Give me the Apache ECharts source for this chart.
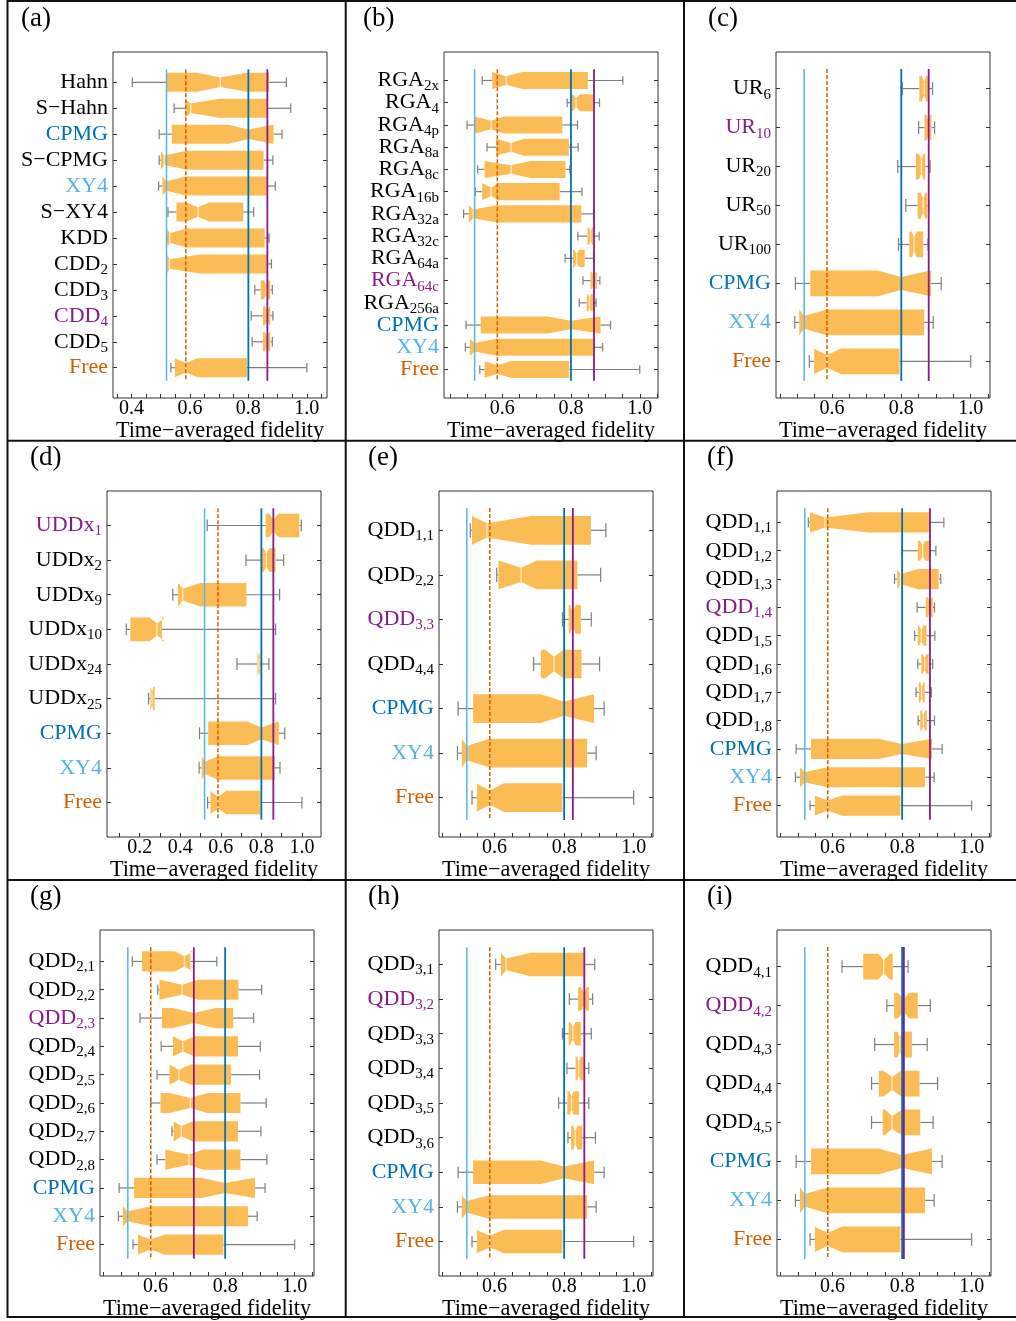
<!DOCTYPE html>
<html><head><meta charset="utf-8">
<script src="https://cdn.jsdelivr.net/npm/echarts@6/dist/echarts.min.js"></script>
<style>html,body{margin:0;padding:0;background:#fff}#c{width:1016px;height:1321px}</style>
</head><body><div id="c"></div>
<script>
// ---------- DATA ----------
// box stats: [whiskerLow, q1, notchLow, median, notchHigh, q3, whiskerHigh]
const CPMG = [0.495,0.538,0.732,0.800,0.885,0.886,0.915];
const XY4  = [0.493,0.506,0.506,0.520,0.586,0.866,0.892];
const FREE = [0.535,0.549,0.547,0.586,0.627,0.795,1.000];
const QDD11 = [0.530,0.535,0.535,0.578,0.705,0.877,0.920];
const QDD22 = [0.606,0.611,0.611,0.676,0.722,0.838,0.905];
const QDD33 = [0.795,0.813,0.817,0.825,0.833,0.848,0.878];
const QDD44 = [0.712,0.733,0.746,0.771,0.798,0.850,0.902];

const catsA = ['Hahn','S\u2212Hahn','CPMG','S\u2212CPMG','XY4','S\u2212XY4','KDD','CDD_2','CDD_3','CDD_4','CDD_5','Free'];
const statsA = [
  [0.403,0.522,0.625,0.704,0.795,0.871,0.930],
  [0.546,0.585,0.580,0.603,0.700,0.865,0.945],
  CPMG,
  [0.495,0.501,0.501,0.512,0.590,0.852,0.884],
  XY4,
  [0.525,0.554,0.588,0.628,0.666,0.782,0.818],
  [0.522,0.523,0.523,0.531,0.590,0.856,0.871],
  [0.521,0.522,0.522,0.530,0.634,0.865,0.879],
  [0.822,0.842,0.852,0.862,0.870,0.875,0.882],
  [0.810,0.850,0.857,0.865,0.872,0.875,0.884],
  [0.813,0.850,0.856,0.864,0.870,0.875,0.882],
  FREE
];
const catsB = ['RGA_2x','RGA_4','RGA_4p','RGA_8a','RGA_8c','RGA_16b','RGA_32a','RGA_32c','RGA_64a','RGA_64c','RGA_256a','CPMG','XY4','Free'];
const statsB = [
  [0.542,0.571,0.571,0.612,0.658,0.849,0.951],
  [0.789,0.802,0.805,0.815,0.826,0.864,0.883],
  [0.498,0.520,0.520,0.568,0.605,0.775,0.819],
  [0.556,0.583,0.583,0.626,0.663,0.794,0.821],
  [0.529,0.549,0.549,0.626,0.683,0.784,0.797],
  [0.522,0.542,0.542,0.568,0.590,0.767,0.832],
  [0.488,0.503,0.503,0.516,0.585,0.830,0.867],
  [0.820,0.848,0.853,0.857,0.862,0.864,0.882],
  [0.783,0.806,0.810,0.817,0.824,0.840,0.867],
  [0.835,0.857,0.861,0.867,0.872,0.875,0.884],
  [0.824,0.846,0.850,0.854,0.858,0.864,0.873],
  CPMG, XY4, FREE
];
const catsC = ['UR_6','UR_10','UR_20','UR_50','UR_100','CPMG','XY4','Free'];
const statsC = [
  [0.803,0.852,0.859,0.866,0.872,0.877,0.890],
  [0.850,0.867,0.873,0.879,0.884,0.887,0.896],
  [0.790,0.842,0.851,0.858,0.864,0.869,0.883],
  [0.813,0.847,0.856,0.863,0.869,0.875,0.879],
  [0.792,0.823,0.830,0.837,0.844,0.863,0.877],
  CPMG, XY4, FREE
];
const catsD = ['UDDx_1','UDDx_2','UDDx_9','UDDx_10','UDDx_24','UDDx_25','CPMG','XY4','Free'];
const statsD = [
  [0.533,0.821,0.838,0.859,0.885,0.987,0.997],
  [0.724,0.798,0.812,0.825,0.838,0.870,0.910],
  [0.363,0.389,0.389,0.412,0.499,0.726,0.890],
  [0.134,0.154,0.249,0.285,0.326,0.310,0.870],
  [0.680,0.781,0.783,0.788,0.792,0.795,0.837],
  [0.244,0.253,0.254,0.261,0.267,0.274,0.870],
  CPMG, XY4, FREE
];
const catsE = ['QDD_1,1','QDD_2,2','QDD_3,3','QDD_4,4','CPMG','XY4','Free'];
const statsE = [QDD11, QDD22, QDD33, QDD44, CPMG, XY4, FREE];
const catsF = ['QDD_1,1','QDD_1,2','QDD_1,3','QDD_1,4','QDD_1,5','QDD_1,6','QDD_1,7','QDD_1,8','CPMG','XY4','Free'];
const statsF = [
  QDD11,
  [0.800,0.845,0.851,0.859,0.866,0.878,0.897],
  [0.778,0.786,0.786,0.795,0.847,0.905,0.911],
  [0.843,0.868,0.873,0.880,0.885,0.888,0.893],
  [0.836,0.845,0.849,0.855,0.861,0.870,0.894],
  [0.845,0.855,0.858,0.865,0.871,0.876,0.888],
  [0.840,0.848,0.852,0.856,0.861,0.865,0.884],
  [0.846,0.852,0.856,0.861,0.866,0.871,0.893],
  CPMG, XY4, FREE
];
const catsG = ['QDD_2,1','QDD_2,2','QDD_2,3','QDD_2,4','QDD_2,5','QDD_2,6','QDD_2,7','QDD_2,8','CPMG','XY4','Free'];
const statsG = [
  [0.533,0.561,0.655,0.683,0.707,0.700,0.776],
  QDD22,
  [0.555,0.618,0.648,0.710,0.774,0.823,0.882],
  [0.616,0.650,0.650,0.678,0.712,0.837,0.901],
  [0.604,0.640,0.640,0.667,0.702,0.817,0.899],
  [0.586,0.614,0.640,0.700,0.750,0.844,0.918],
  [0.647,0.652,0.652,0.674,0.707,0.837,0.903],
  [0.604,0.628,0.628,0.696,0.736,0.844,0.920],
  CPMG, XY4, FREE
];
const catsH = ['QDD_3,1','QDD_3,2','QDD_3,3','QDD_3,4','QDD_3,5','QDD_3,6','CPMG','XY4','Free'];
const statsH = [
  [0.603,0.618,0.618,0.633,0.703,0.858,0.888],
  [0.815,0.840,0.848,0.858,0.864,0.871,0.882],
  QDD33,
  [0.808,0.833,0.837,0.842,0.847,0.856,0.871],
  [0.784,0.809,0.815,0.821,0.827,0.843,0.871],
  [0.811,0.820,0.826,0.832,0.838,0.852,0.890],
  CPMG, XY4, FREE
];
const catsI = ['QDD_4,1','QDD_4,2','QDD_4,3','QDD_4,4','QDD_4,5','CPMG','XY4','Free'];
const statsI = [
  [0.627,0.688,0.732,0.747,0.765,0.773,0.817],
  [0.756,0.777,0.787,0.805,0.820,0.845,0.881],
  [0.721,0.777,0.787,0.793,0.800,0.828,0.872],
  QDD44,
  [0.712,0.744,0.750,0.771,0.800,0.852,0.889],
  CPMG, XY4, FREE
];
// index of the best sequence (purple) in each panel
const bestIdx = [9, 9, 1, 0, 2, 3, 2, 1, 1];
const panelLabels = ['(a)','(b)','(c)','(d)','(e)','(f)','(g)','(h)','(i)'];

// tick values
const ticks005A = [0.35,0.40,0.45,0.50,0.55,0.60,0.65,0.70,0.75,0.80,0.85,0.90,0.95,1.00,1.05];
const ticks005 = [0.45,0.50,0.55,0.60,0.65,0.70,0.75,0.80,0.85,0.90,0.95,1.00,1.05];
const ticks01D = [0.1,0.2,0.3,0.4,0.5,0.6,0.7,0.8,0.9,1.0];
const labelsA = [0.4,0.6,0.8,1.0];
const labelsD = [0.2,0.4,0.6,0.8,1.0];
const labelsStd = [0.6,0.8,1.0];
const xTitle = 'Time\u2212averaged fidelity';

// ---------- STYLE / LAYOUT ----------
const FONT = '"Liberation Serif","Times New Roman",serif';
const COL = {k:'#000000', b:'#0072B2', l:'#56B4E9', o:'#D55E00', p:'#8B1A8B'};
const BOX = '#FBBC55', WHISK = '#7f7f7f';
const H = 346, W = 214;
const MAIN_FS = 22, SUB_FS = 15, SUB_DY = 6, LABEL_GAP = 5;

const panels = [
  {cats:catsA, stats:statsA, ticks:ticks005A, labels:labelsA, xr:[0.337,1.069], left:113, top:52, lx:21, ly:20},
  {cats:catsB, stats:statsB, ticks:ticks005, labels:labelsStd, xr:[0.431,1.053], left:444, top:52, lx:363, ly:20},
  {cats:catsC, stats:statsC, ticks:ticks005, labels:labelsStd, xr:[0.439,1.0556], left:776, top:52, lx:708, ly:20},
  {cats:catsD, stats:statsD, ticks:ticks01D, labels:labelsD, xr:[0.039,1.094], left:107, top:491, lx:30, ly:459},
  {cats:catsE, stats:statsE, ticks:ticks005, labels:labelsStd, xr:[0.440,1.0556], left:439, top:491, lx:368, ly:459},
  {cats:catsF, stats:statsF, ticks:ticks005, labels:labelsStd, xr:[0.440,1.0556], left:777, top:491, lx:707, ly:459},
  {cats:catsG, stats:statsG, ticks:ticks005, labels:labelsStd, xr:[0.440,1.0556], left:100, top:930, lx:30, ly:898},
  {cats:catsH, stats:statsH, ticks:ticks005, labels:labelsStd, xr:[0.440,1.0556], left:439, top:930, lx:368, ly:898},
  {cats:catsI, stats:statsI, ticks:ticks005, labels:labelsStd, xr:[0.440,1.0556], left:777, top:930, lx:707, ly:898}
];

const mctx = document.createElement('canvas').getContext('2d');
function textWidth(t, fs) { mctx.font = fs + 'px ' + FONT; return mctx.measureText(t).width; }

function colorKey(name, i, best) {
  if (i === best) return 'p';
  if (name === 'CPMG') return 'b';
  if (name === 'XY4') return 'l';
  if (name === 'Free') return 'o';
  return 'k';
}

function renderBox(params, api) {
  const i = api.value(0);
  const wl = api.value(1), q1 = api.value(2), nlo = api.value(3), med = api.value(4),
        nhi = api.value(5), q3 = api.value(6), wh = api.value(7);
  const X = v => api.coord([v, i])[0];
  const cy = api.coord([med, i])[1];
  const s = api.size([0, 1])[1];
  const w = 0.26 * s + 2.75;
  const cap = w / 2;
  const ws = {stroke: WHISK, lineWidth: 1.2};
  const ch = [];
  if (wl < q1 - 1e-4) {
    ch.push({type:'line', shape:{x1:X(wl), y1:cy, x2:X(q1), y2:cy}, style:ws});
    ch.push({type:'line', shape:{x1:X(wl), y1:cy-cap, x2:X(wl), y2:cy+cap}, style:ws});
  }
  if (wh > q3 + 1e-4) {
    ch.push({type:'line', shape:{x1:X(q3), y1:cy, x2:X(wh), y2:cy}, style:ws});
    ch.push({type:'line', shape:{x1:X(wh), y1:cy-cap, x2:X(wh), y2:cy+cap}, style:ws});
  }
  const pts = [
    [X(q1), cy-w], [X(nlo), cy-w], [X(med), cy-w/2], [X(nhi), cy-w], [X(q3), cy-w],
    [X(q3), cy+w], [X(nhi), cy+w], [X(med), cy+w/2], [X(nlo), cy+w], [X(q1), cy+w]
  ];
  ch.push({type:'polygon', shape:{points:pts}, style:{fill: BOX, stroke: null}});
  ch.push({type:'line', shape:{x1:X(med), y1:cy-w/2, x2:X(med), y2:cy+w/2},
           style:{stroke:'rgba(255,255,255,0.65)', lineWidth:1.4}});
  return {type:'group', children: ch};
}

function makeLabelRenderer(P, best) {
  return function (params, api) {
    const i = api.value(0);
    const pt = api.coord([P.xr[0], i]);
    const x0 = pt[0] - LABEL_GAP, cy = pt[1];
    const name = P.cats[i];
    const fill = COL[colorKey(name, i, best)];
    const parts = name.split('_');
    const ch = [];
    let xm = x0;
    if (parts.length > 1) {
      ch.push({type:'text', x:x0, y:cy + SUB_DY, style:{text:parts[1], fill:fill,
        font: SUB_FS + 'px ' + FONT, align:'right', verticalAlign:'middle'}});
      xm = x0 - textWidth(parts[1], SUB_FS);
    }
    ch.push({type:'text', x:xm, y:cy, style:{text:parts[0], fill:fill,
      font: MAIN_FS + 'px ' + FONT, align:'right', verticalAlign:'middle'}});
    return {type:'group', children: ch};
  };
}

const option = {animation:false, grid:[], xAxis:[], yAxis:[], series:[], graphic:[]};

panels.forEach((P, k) => {
  const n = P.cats.length;
  const s = (H - 35.4) / (n - 0.03);
  const pad = 0.485 + 17.7 / s;
  const idxs = P.cats.map((c, i) => i);
  const best = bestIdx[k];
  option.grid.push({left:P.left, top:P.top, width:W, height:H, show:true,
    borderColor:'#333', borderWidth:1, backgroundColor:'transparent',
    containLabel:false, outerBoundsMode:'none'});
  option.xAxis.push({gridIndex:k, type:'value', min:P.xr[0], max:P.xr[1], position:'bottom',
    axisLine:{show:false, onZero:false}, splitLine:{show:false},
    axisTick:{show:true, inside:true, length:4, customValues:P.ticks, lineStyle:{color:'#333', width:1}},
    axisLabel:{customValues:P.labels, margin:1, formatter: v => v.toFixed(1), hideOverlap:false,
      showMinLabel:true, showMaxLabel:true, fontFamily:FONT, fontSize:20, color:'#000'},
    name:xTitle, nameLocation:'middle', nameGap:15,
    nameTextStyle:{fontFamily:FONT, fontSize:22.2, color:'#000'}});
  ['left','right'].forEach(pos => option.yAxis.push({gridIndex:k, type:'value', min:-pad, max:n-1+pad,
    inverse:true, position:pos,
    axisLine:{show:false, onZero:false}, splitLine:{show:false},
    axisTick:{show:true, inside:true, length:4, customValues:idxs, lineStyle:{color:'#333', width:1}},
    axisLabel:{show:false}}));
  const yL = 2 * k;
  option.series.push({type:'custom', xAxisIndex:k, yAxisIndex:yL, renderItem:renderBox,
    encode:{x:[1,2,3,4,5,6,7], y:0}, silent:true, z:2, clip:false,
    data:P.stats.map((st, i) => [i].concat(st))});
  // category labels, positioned through the y scale
  option.series.push({type:'custom', xAxisIndex:k, yAxisIndex:yL, renderItem:makeLabelRenderer(P, best),
    encode:{y:0}, silent:true, z:6, clip:false, data:idxs.map(i => [i])});
  const iX = P.cats.indexOf('XY4'), iF = P.cats.indexOf('Free'), iC = P.cats.indexOf('CPMG');
  const refs = [
    {v:P.stats[iX][3], c:COL.l, w:1.5, t:'solid'},
    {v:P.stats[iF][3], c:COL.o, w:1.5, t:[4,2]},
    {v:P.stats[iC][3], c:COL.b, w:1.8, t:'solid'},
    {v:P.stats[best][3], c:COL.p, w:1.8, t:'solid'}
  ];
  refs.forEach(r => {
    option.series.push({type:'line', xAxisIndex:k, yAxisIndex:yL, silent:true, z:5,
      symbol:'none', data:[[r.v, -0.5], [r.v, n - 0.5]],
      lineStyle:{color:r.c, width:r.w, type:r.t}});
  });
  option.graphic.push({type:'text', left:P.lx, top:P.ly - 15,
    style:{text:panelLabels[k], font:'27px ' + FONT, fill:'#000'}});
});

// panel frame lines
const frameLines = [
  [7.5, 0, 7.5, 1318], [345.7, 0, 345.7, 1318], [684, 0, 684, 1318],
  [7, 1, 1016, 1], [7, 440.7, 1016, 440.7], [7, 880, 1016, 880], [7, 1317, 1016, 1317]
];
frameLines.forEach(l => option.graphic.push({type:'line', silent:true,
  shape:{x1:l[0], y1:l[1], x2:l[2], y2:l[3]}, style:{stroke:'#111', lineWidth:2}}));

const chart = echarts.init(document.getElementById('c'), null, {renderer:'canvas'});
chart.setOption(option);
</script></body></html>
